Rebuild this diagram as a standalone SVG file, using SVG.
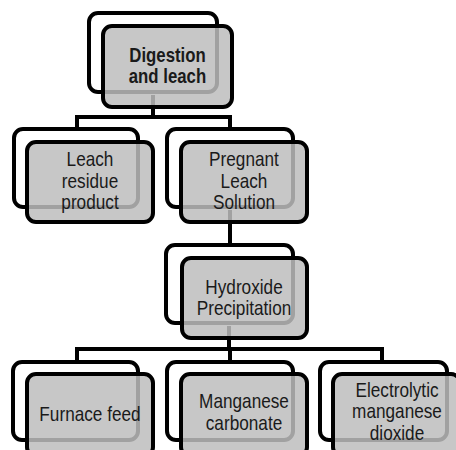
<svg xmlns="http://www.w3.org/2000/svg" width="456" height="450" viewBox="0 0 456 450">
<style>
.back{fill:#ffffff;stroke:#000;stroke-width:4}
.front{fill:#bdbdbd;fill-opacity:0.85;stroke:#000;stroke-width:4}
.conn{fill:none;stroke:#000;stroke-width:4;stroke-linejoin:miter}
.t{font-family:"Liberation Sans",Arial,sans-serif;font-size:20px;fill:#1a1a1a;text-anchor:middle}
.b{font-weight:bold}
</style>
<rect width="456" height="450" fill="#fff"/>
<g id="connectors">
<path class="conn" d="M153 95 V117 M77 129 V117 H230 V129"/>
<path class="conn" d="M230 210 V245"/>
<path class="conn" d="M229 326 V349 M77 362 V349 H382 V362 M230 349 V362"/>
</g>
<g id="digestion">
<rect class="back" x="89" y="13" width="128" height="79" rx="9"/>
<rect class="front" x="103" y="26" width="129" height="81" rx="9"/>
<g transform="translate(167.5,0) scale(0.84,1)">
<text class="t b" x="0" y="62">Digestion</text>
<text class="t b" x="0" y="83">and leach</text>
</g>
</g>
<g id="leach-residue">
<rect class="back" x="14" y="129" width="124" height="78" rx="9"/>
<rect class="front" x="27" y="142" width="126" height="80" rx="9"/>
<g transform="translate(90,0) scale(0.86,1)">
<text class="t" x="0" y="166">Leach</text>
<text class="t" x="0" y="188">residue</text>
<text class="t" x="0" y="209">product</text>
</g>
</g>
<g id="pls">
<rect class="back" x="167" y="129" width="126" height="78" rx="9"/>
<rect class="front" x="181" y="142" width="126" height="80" rx="9"/>
<g transform="translate(244,0) scale(0.86,1)">
<text class="t" x="0" y="166">Pregnant</text>
<text class="t" x="0" y="188">Leach</text>
<text class="t" x="0" y="209">Solution</text>
</g>
</g>
<g id="hydroxide">
<rect class="back" x="166" y="245" width="127" height="78" rx="9"/>
<rect class="front" x="182" y="258" width="125" height="80" rx="9"/>
<g transform="translate(244,0) scale(0.86,1)">
<text class="t" x="0" y="294">Hydroxide</text>
<text class="t" x="0" y="315">Precipitation</text>
</g>
</g>
<g id="furnace">
<rect class="back" x="13" y="362" width="125" height="78" rx="9"/>
<rect class="front" x="27" y="374" width="126" height="82" rx="9"/>
<g transform="translate(90,0) scale(0.86,1)">
<text class="t" x="0" y="421">Furnace feed</text>
</g>
</g>
<g id="carbonate">
<rect class="back" x="167" y="362" width="126" height="78" rx="9"/>
<rect class="front" x="181" y="374" width="126" height="82" rx="9"/>
<g transform="translate(244,0) scale(0.86,1)">
<text class="t" x="0" y="408">Manganese</text>
<text class="t" x="0" y="430">carbonate</text>
</g>
</g>
<g id="emd">
<rect class="back" x="320" y="362" width="127" height="78" rx="9"/>
<rect class="front" x="333" y="374" width="127" height="82" rx="9"/>
<g transform="translate(397,0) scale(0.86,1)">
<text class="t" x="0" y="397">Electrolytic</text>
<text class="t" x="0" y="418">manganese</text>
<text class="t" x="0" y="440">dioxide</text>
</g>
</g>
</svg>
